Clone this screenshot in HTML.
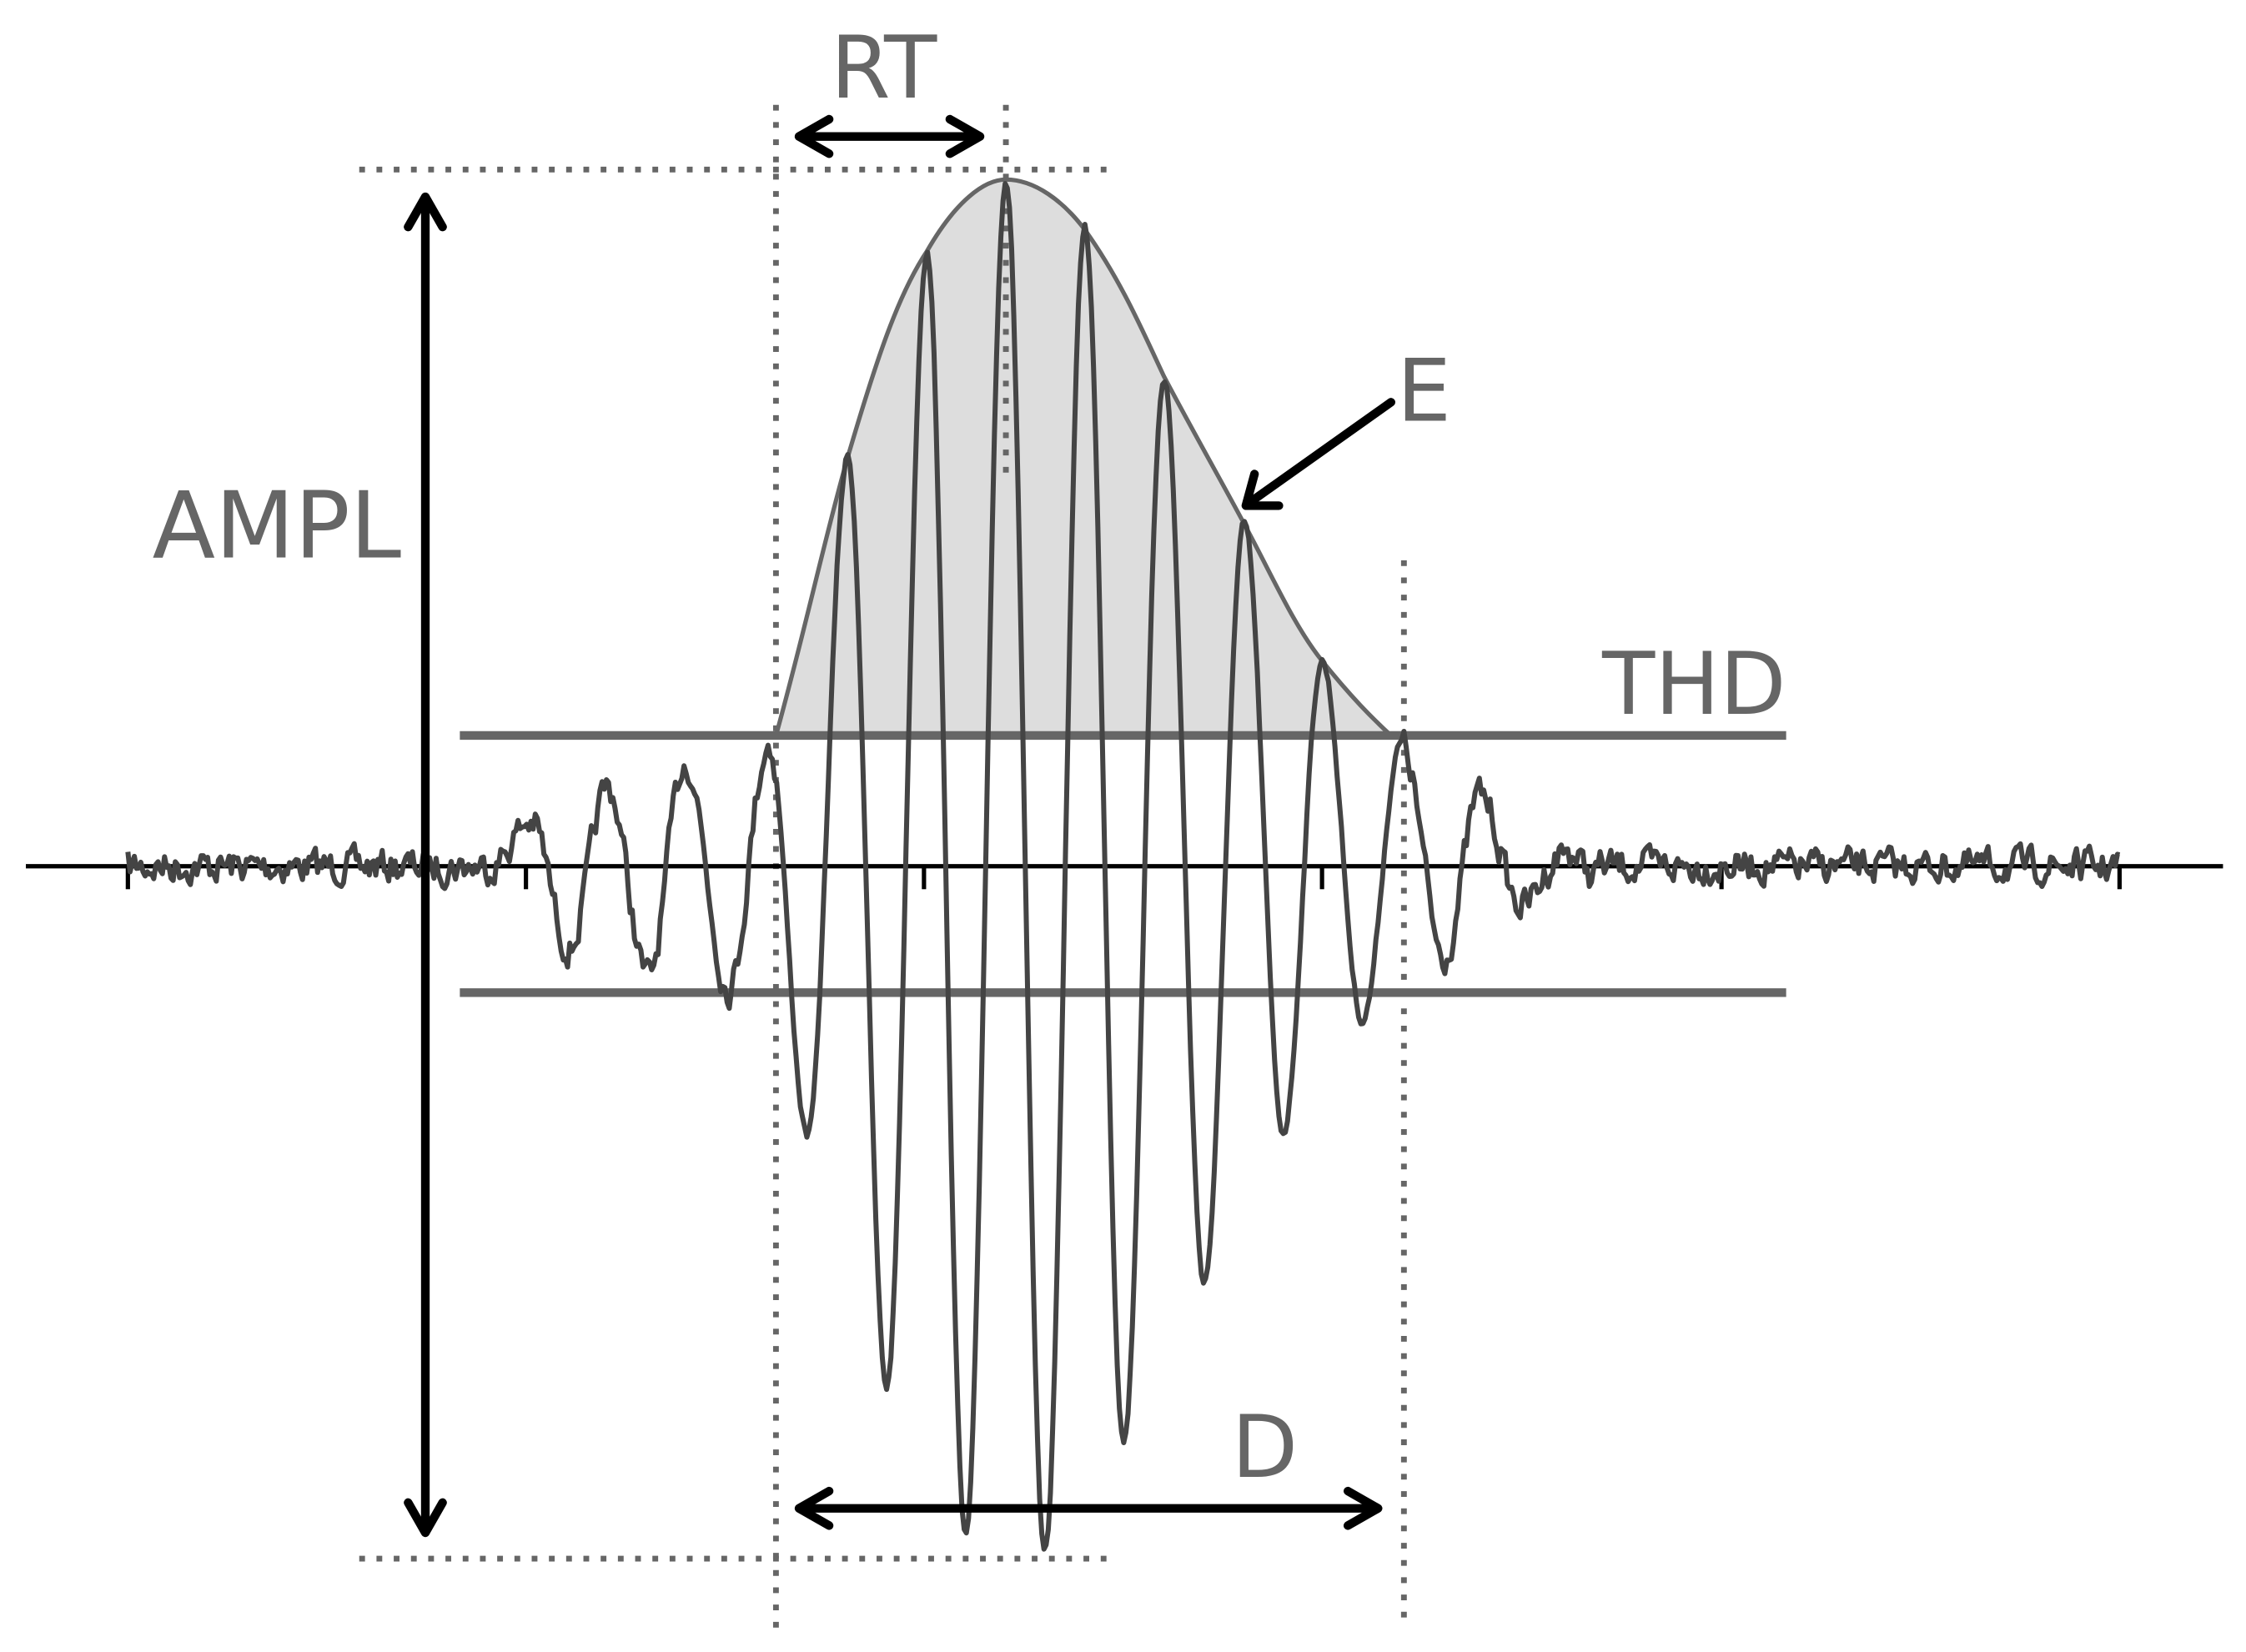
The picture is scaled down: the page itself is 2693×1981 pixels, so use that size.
<!DOCTYPE html>
<html><head><meta charset="utf-8"><style>
html,body{margin:0;padding:0;background:#fff;}
svg{display:block;}
text{font-family:"DejaVu Sans","Liberation Sans",sans-serif;fill:#666;}
</style></head><body>
<svg id="s" width="2693" height="1981" viewBox="0 0 1563 1150" preserveAspectRatio="none" xmlns="http://www.w3.org/2000/svg">
<path d="M540,512 C560,440 575,370 590,318 C610,250 625,205 645,175 C665,140 685,125 700,125 C720,125 740,140 755,160 C780,195 795,230 810,262 C830,300 850,335 866,365 C885,400 900,435 920,460 C940,485 955,500 968,512 Z" fill="#dddddd" stroke="#666" stroke-width="3"/>
<g stroke="#666" stroke-width="4" stroke-dasharray="4,8" fill="none">
<line x1="250" y1="118" x2="775" y2="118"/>
<line x1="250" y1="1085" x2="775" y2="1085"/>
<line x1="540" y1="73" x2="540" y2="1133"/>
<line x1="700" y1="73" x2="700" y2="335"/>
<line x1="977" y1="390" x2="977" y2="1133"/>
</g>
<line x1="320" y1="512" x2="1243" y2="512" stroke="#666" stroke-width="6"/>
<line x1="320" y1="691" x2="1243" y2="691" stroke="#666" stroke-width="6"/>
<line x1="18" y1="603" x2="1547" y2="603" stroke="#000" stroke-width="3"/>
<g stroke="#000" stroke-width="3">
<line x1="89" y1="603" x2="89" y2="619"/><line x1="366" y1="603" x2="366" y2="619"/>
<line x1="643" y1="603" x2="643" y2="619"/><line x1="920" y1="603" x2="920" y2="619"/>
<line x1="1198" y1="603" x2="1198" y2="619"/><line x1="1475" y1="603" x2="1475" y2="619"/>
</g>
<path id="w" fill="none" stroke="#444" stroke-width="3.5" stroke-linejoin="round"/>
<g stroke="#000" stroke-width="6" fill="none" stroke-linecap="round" stroke-linejoin="round">
<line x1="296" y1="138" x2="296" y2="1066"/>
<polyline points="284,158 296,137 308,158"/><polyline points="284,1046 296,1067 308,1046"/>
<line x1="557" y1="95" x2="681" y2="95"/>
<polyline points="577,83 556,95 577,107"/><polyline points="661,83 682,95 661,107"/>
<line x1="557" y1="1050" x2="958" y2="1050"/>
<polyline points="577,1038 556,1050 577,1062"/><polyline points="938,1038 959,1050 938,1062"/>
<line x1="968" y1="280" x2="868" y2="351"/>
<polyline points="873,330 867,352 890,352"/>
</g>
<text x="578" y="68" font-size="60">RT</text>
<text x="106" y="388" font-size="64">AMPL</text>
<text x="972" y="293" font-size="60">E</text>
<text x="1115" y="497" font-size="60">THD</text>
<text x="857" y="1028" font-size="60">D</text>
</svg>
<script>
(function(){
var ex=[[340,603],[370,572],[396,660],[423,548],[451,680],[477,530],[507,688],[535,518],[562,790],[590,318],[617,965],[645,175],[672,1070],[700,125],[727,1083],[755,157],[782,1003],[810,262],[838,892],[866,365],[893,788],[920,460],[948,710],[975,518],[1005,665],[1030,552],[1058,630],[1090,592],[1110,610]];
var seed=7;function r(){seed=(seed*16807)%2147483647;return seed/2147483647-0.5;}
var d="";var n=0;
for(var x=89;x<=1475;x+=1.5){
 var y=603;
 if(x>=340&&x<=1110){
  for(var i=0;i<ex.length-1;i++){if(x>=ex[i][0]&&x<=ex[i+1][0]){var t=(x-ex[i][0])/(ex[i+1][0]-ex[i][0]);var c=(1-Math.cos(Math.PI*t))/2;y=ex[i][1]+(ex[i+1][1]-ex[i][1])*c;break;}}
 }
 n=n*0.45+r()*20;
 var amp=(x>=540&&x<=975)?0.3:1;
 y+=n*amp;
 d+=(d?"L":"M")+x.toFixed(1)+","+y.toFixed(1);
}
document.getElementById("w").setAttribute("d",d);
})();
</script>
</body></html>
